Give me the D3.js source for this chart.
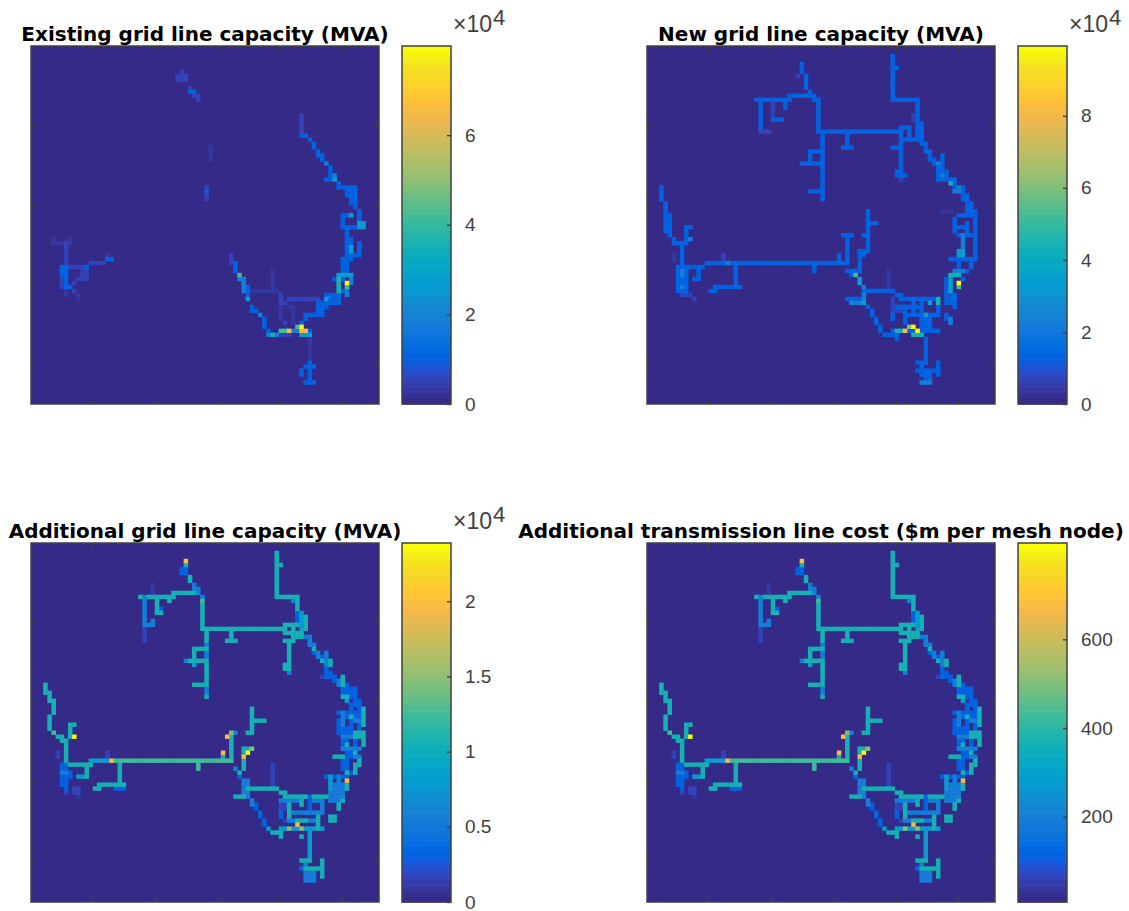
<!DOCTYPE html>
<html><head><meta charset="utf-8">
<style>html,body{margin:0;padding:0;background:#fff}svg{display:block}</style>
<script src="https://cdn.jsdelivr.net/npm/d3@7/dist/d3.min.js"></script>
</head><body><svg id="chart" width="1129" height="911"></svg>
<script>
// Titles and colourbar ticks
const titles = ["Existing grid line capacity (MVA)","New grid line capacity (MVA)","Additional grid line capacity (MVA)","Additional transmission line cost ($m per mesh node)"];
const barTicks = [[0,2e4,4e4,6e4],[0,2e4,4e4,6e4,8e4],[0,5e3,1e4,1.5e4,2e4],[200,400,600]];
const barTickLabels = [["0","2","4","6"],["0","2","4","6","8"],["0","0.5","1","1.5","2"],["200","400","600"]];
const barDomains = [[0,79900],[0,99400],[0,23870],[8,817]];
const xTicks = [15,30,45,60,75];
const yTicks = [20,40,60,80];
// Value classes (index = class used in the cell runs, 0 = empty)
const existingLevels = [0,3200,6000,11200,17600,26400,36000,41600,49600,65600,79900];
const newLevels = [0,4000,7500,13900,21900,32800,44700,51700,61600,81500,99400];
const additionalLevels = [0,950,1790,3340,5250,7880,10740,12410,14800,19570,23870];
const costLevels = [8,40,69,121,186,275,372,429,510,671,817];
// Cell runs: [colFrom,rowFrom,colTo,rowTo,valueClass]
const existingCells = [
[35,7,37,8,2],[36,6,36,6,2],[38,10,38,10,2],[38,11,39,11,3],[39,12,40,12,2],[40,13,40,13,2],
[43,25,43,28,1],[42,35,42,38,2],[42,36,42,36,3],
[5,48,5,49,1],[6,49,7,49,1],[9,48,9,49,1],[8,49,8,54,2],[7,55,8,57,3],[7,58,7,60,2],[8,58,8,60,3],[9,55,13,55,2],[13,55,13,55,3],[14,54,17,54,2],[18,52,18,53,1],[18,53,19,53,3],[12,56,13,58,2],[11,58,12,58,2],[10,59,10,59,2],[9,60,9,60,3],[10,61,10,61,2],[11,62,11,63,1],[8,61,8,62,1],
[65,17,65,21,2],[65,22,66,22,3],[67,23,67,23,3],[68,24,68,25,3],[69,26,69,27,3],[70,27,70,28,3],[71,29,71,29,4],[72,30,72,32,3],[73,32,73,32,4],[71,33,72,33,3],[73,33,73,33,5],[74,34,74,35,3],[74,35,77,35,3],[76,36,76,37,3],[77,35,78,38,3],[77,38,77,39,3],[78,39,78,40,3],[79,41,79,44,3],[75,42,77,42,3],[77,42,77,42,5],[75,42,75,45,3],[75,45,80,45,3],[79,44,80,45,5],
[76,46,76,48,3],[76,48,77,53,3],[77,50,77,52,5],[77,52,79,52,3],[79,49,79,52,3],[75,53,76,56,3],
[74,57,77,57,5],[74,58,74,62,6],[75,58,75,58,3],[77,58,77,59,4],[76,59,76,59,10],[76,60,76,60,7],[76,61,76,62,4],[73,58,73,58,3],[71,62,74,64,3],[71,63,71,63,5],[75,61,75,61,3],
[62,63,69,63,2],[69,64,70,64,5],[71,65,71,65,3],[70,64,70,66,3],[66,67,70,67,3],[69,64,69,66,3],[66,68,66,68,3],[65,69,65,69,3],
[60,71,61,71,7],[62,71,62,71,9],[63,71,64,71,4],[65,70,65,70,10],[64,70,64,70,7],[65,71,66,71,9],[67,71,67,71,3],[57,72,59,72,4],[58,72,58,72,6],[60,72,62,72,2],[65,72,67,72,5],
[48,52,48,54,2],[49,54,49,55,3],[49,56,49,56,3],[50,57,50,57,7],[50,58,50,58,4],[51,58,51,61,4],[52,60,52,63,3],[52,63,52,63,5],[53,61,59,61,1],[58,56,58,61,1],[60,62,60,63,2],[60,64,61,64,2],[62,65,62,65,1],[60,65,60,68,1],[63,65,63,69,1],[61,69,61,69,2],
[53,65,53,66,3],[54,66,54,66,3],[55,67,55,67,4],[56,68,56,70,3],[57,71,57,71,3],
[67,73,67,79,1],[66,80,68,80,3],[65,81,65,82,3],[67,79,67,84,3],[66,84,68,84,3]
];
const newCells = [
[66,24,67,24,3],[67,26,68,26,3],[68,28,69,28,3],[69,29,70,29,3],[70,30,70,32,3],[72,31,72,33,3],[72,33,73,33,4],[74,35,75,36,4],[75,36,76,36,3],[76,37,77,38,3],[77,39,78,41,3],[60,66,62,66,2],
[59,2,59,13,3],[60,5,60,5,3],[59,13,65,13,3],[65,13,65,21,3],[41,21,61,21,3],[61,20,63,20,3],[61,20,61,22,3],[63,20,63,23,3],[61,23,65,23,3],[65,19,66,23,3],[64,17,64,18,2],
[41,13,41,21,3],[26,13,34,13,3],[34,12,40,12,3],[40,13,40,13,3],[37,4,37,6,3],[36,7,36,7,2],[38,7,38,10,3],[39,11,39,12,3],
[27,13,27,20,3],[27,21,29,21,2],[30,14,30,18,2],[30,18,32,18,3],[33,14,33,15,3],
[42,22,42,38,3],[39,26,42,26,3],[39,26,39,29,3],[37,29,42,29,3],[39,36,42,36,3],[47,25,49,25,3],[48,22,48,25,3],
[61,23,61,33,3],[59,25,61,25,3],[60,31,61,31,3],[60,32,62,32,3],[61,33,61,33,2],
[67,25,67,26,3],[68,27,68,27,3],[69,28,69,28,3],[70,29,70,29,4],[71,30,71,30,4],[71,27,71,31,3],[71,32,71,32,4],[70,33,73,33,3],[73,34,73,34,6],[74,33,74,35,3],[75,36,75,36,4],[76,35,76,37,3],[76,38,76,38,3],[77,38,77,40,3],[79,41,79,46,3],[77,42,77,42,6],[75,42,78,42,3],[74,43,74,46,3],[75,45,77,45,3],[77,44,77,46,3],[75,47,79,47,3],[76,47,76,51,4],[75,51,76,52,5],[79,48,79,52,3],[76,53,79,53,3],[73,53,76,53,3],[75,54,75,56,3],[78,54,78,55,3],[71,41,73,41,1],
[73,57,75,57,6],[74,56,76,56,4],
[3,35,3,38,3],[4,39,4,43,3],[5,42,5,46,3],[4,44,4,46,3],[5,47,5,47,3],[6,48,6,49,3],[7,49,9,49,3],[9,45,9,48,3],[9,45,10,45,3],[10,48,10,48,4],[8,50,8,54,3],
[7,55,13,55,3],[14,54,48,54,3],[18,52,18,53,2],[19,54,19,54,4],[12,56,12,58,3],[11,58,12,58,3],[21,55,21,60,3],[16,60,22,60,3],[15,61,16,61,3],[40,55,40,56,3],
[7,55,9,58,3],[7,59,9,61,3],[8,56,8,57,4],[8,60,8,60,4],[8,62,10,62,2],[11,63,11,63,2],[6,52,6,53,1],
[48,47,48,53,3],[47,47,49,47,3],[46,52,46,53,3],[53,41,53,51,3],[53,44,55,44,3],[52,47,52,47,3],[51,51,51,56,3],[51,51,53,51,3],[52,52,52,52,3],[49,56,50,57,3],[58,56,58,60,1],
[48,56,50,56,3],[50,57,50,57,7],[51,58,51,59,5],[52,60,52,63,4],[52,64,52,64,5],[49,63,51,64,4],[52,61,59,61,3],[60,62,61,62,3],[61,63,70,63,3],[68,64,68,64,5],[70,63,70,63,7],
[53,65,53,65,3],[54,66,54,67,3],[55,68,55,69,3],[56,70,56,71,3],[57,72,57,72,7],[57,72,60,72,3],[60,73,60,73,3],[59,71,70,71,3],[60,71,61,71,6],[62,71,62,71,9],[63,70,63,70,8],[64,70,64,70,10],[65,71,65,71,10],[64,72,66,72,6],
[67,73,67,78,3],[65,79,67,79,3],[70,79,70,82,3],[66,81,70,81,3],[65,81,65,81,3],[66,80,66,82,3],[67,82,68,84,3],[66,84,68,84,4],
[59,63,59,67,2],[59,67,59,68,3],[60,65,61,65,3],[62,65,62,69,3],[62,67,70,67,3],[66,67,67,67,5],[64,64,64,66,3],[66,64,66,70,3],[67,68,68,71,3],[70,65,70,67,3],[62,65,65,65,3],[72,67,72,68,3],[73,68,73,69,4],
[73,58,73,62,5],[74,57,75,57,6],[75,59,75,59,10],[75,60,75,60,7],[72,58,72,62,3],[72,62,74,64,3],[70,63,70,64,6],[76,58,76,58,3],[77,56,77,56,3],[74,65,74,65,3],
[48,63,51,63,3]
];
const additionalCells = [
[66,23,67,23,4],[67,25,67,25,4],[68,27,68,27,3],[69,28,69,28,4],[71,32,71,32,3],[71,33,72,33,3],[73,34,73,34,3],[75,36,76,36,3],[76,36,77,36,3],[75,37,76,37,3],[79,41,79,46,3],[77,42,77,47,3],[75,46,75,50,3],[74,44,74,47,3],[78,49,78,51,3],[77,52,77,53,3],[76,52,76,56,3],[72,60,75,63,4],
[37,4,37,4,9],[37,5,37,5,6],[36,6,37,7,3],[38,8,38,9,6],[39,10,39,11,4],[40,11,40,12,4],[41,13,41,13,4],[41,14,41,14,7],[41,15,41,21,6],[41,21,61,21,6],
[26,13,34,13,6],[34,12,39,12,6],[27,13,27,20,4],[27,20,29,20,4],[29,19,29,20,4],[27,21,27,24,2],[29,10,29,12,1],[30,14,30,17,6],[30,17,31,17,6],[31,16,31,16,3],[33,14,33,14,6],
[59,2,59,13,6],[60,5,60,5,6],[59,13,64,13,6],[63,14,64,14,4],[64,14,64,16,6],[64,17,64,20,3],[65,17,65,22,5],[66,18,66,21,6],
[61,20,64,20,6],[61,20,61,22,6],[63,20,63,23,6],[61,22,65,22,6],[63,23,65,23,6],[61,24,63,24,6],[62,24,62,31,6],[61,30,62,30,6],[61,31,61,31,6],[62,32,62,32,4],
[42,22,42,25,6],[42,25,42,28,4],[42,29,42,35,6],[42,36,42,37,4],[42,38,42,38,6],[39,26,42,26,6],[39,26,39,28,6],[37,29,42,29,6],[37,29,37,29,4],[39,30,39,30,5],[39,35,42,35,6],[48,22,48,24,6],[47,24,49,24,6],
[67,24,67,24,4],[68,25,68,25,4],[68,26,68,26,6],[69,27,69,27,4],[70,28,70,28,3],[70,29,70,29,6],[71,27,71,30,4],[72,29,72,30,6],[71,31,71,31,3],[70,33,70,33,2],[72,32,72,33,3],[73,33,73,33,3],[75,33,75,33,6],[74,34,74,35,4],[75,34,75,35,6],[75,36,75,36,3],[76,35,76,35,3],[77,36,78,37,3],[75,38,76,38,6],[77,38,78,38,3],[76,39,76,39,5],[78,39,79,40,3],[77,40,77,41,3],
[74,42,80,42,3],[75,42,75,45,4],[80,41,80,45,6],[76,43,79,43,3],[77,43,77,43,6],[78,44,79,44,4],[76,46,76,51,3],[78,47,80,47,6],[75,48,79,48,4],[78,48,80,48,6],[80,49,80,50,6],[76,50,76,50,6],[75,51,79,51,4],[73,53,75,53,6],[75,54,75,56,3],[78,52,78,52,6],[78,53,79,53,4],[79,54,79,55,6],[78,55,78,57,6],[77,57,77,57,3],
[76,57,76,61,6],[76,59,76,59,9],[71,58,76,58,3],[72,58,72,63,5],[74,58,74,63,4],[72,62,75,64,4],[75,64,75,64,6],[74,65,74,66,6],[72,68,73,69,6],
[3,35,3,37,6],[4,37,4,39,6],[5,39,5,42,6],[4,43,4,46,6],[5,47,5,47,7],[6,48,7,48,6],[7,49,8,49,6],[9,45,9,48,6],[9,45,10,45,6],[10,48,10,48,10],[8,50,8,54,6],[6,52,6,53,2],
[8,55,14,55,6],[14,54,14,55,6],[14,54,18,54,5],[19,54,19,54,9],[20,54,48,54,7],[18,52,18,53,2],[7,55,8,56,3],[7,57,8,57,4],[8,58,8,61,3],[7,58,7,60,3],[9,57,9,58,3],[10,61,11,62,2],[8,62,8,62,2],[11,63,11,63,1],
[13,55,13,58,6],[11,58,12,58,5],[21,55,21,59,6],[16,60,22,60,6],[15,61,16,61,6],[20,61,22,61,3],[40,55,40,56,7],
[48,47,48,53,6],[47,48,47,48,9],[48,47,48,47,8],[49,47,49,47,4],[46,52,46,52,9],[46,53,46,53,6],
[53,41,53,47,6],[53,44,56,44,6],[52,47,53,47,6],[51,51,51,56,6],[51,51,53,51,6],[52,52,52,52,10],[51,53,51,53,9],[53,51,53,51,8],
[49,56,49,56,4],[50,57,50,57,6],[50,58,50,58,3],[51,59,52,62,4],[52,61,59,61,6],[58,55,58,60,2],[49,63,51,63,6],[52,63,52,63,4],
[53,64,53,65,4],[54,65,54,66,3],[55,67,55,68,3],[56,69,56,70,3],[57,71,57,71,5],[58,72,60,72,6],[60,73,60,73,6],[60,71,70,71,5],[62,71,62,71,8],[65,71,65,71,8],[64,70,64,70,9],
[60,62,61,62,6],[61,63,71,63,6],
[67,72,67,78,5],[65,73,65,73,6],[65,79,67,79,6],[70,79,70,83,6],[66,81,70,81,6],[66,82,68,84,4],[65,81,65,81,3],[66,80,66,80,4],
[60,64,61,64,4],[62,64,65,64,4],[65,64,65,65,6],[67,63,67,67,3],[68,64,70,64,4],[70,64,70,66,4],[62,67,70,67,4],[62,65,62,68,6],[60,67,60,68,3],[61,69,61,69,2],[62,69,69,69,4],[64,69,66,69,6],[69,68,69,71,6],[60,65,61,66,2]
];
const panelData = [[existingCells,existingLevels],[newCells,newLevels],[additionalCells,additionalLevels],[additionalCells,costLevels]];
// MATLAB parula, 64 steps
const parula = [[.2081,.1663,.5292],[.2116,.1898,.5777],[.2123,.2138,.627],[.2081,.2386,.6771],[.1959,.2645,.7279],[.1707,.2919,.7792],[.1253,.3242,.8303],[.0591,.3598,.8683],[.0117,.3875,.882],[.006,.4086,.8828],[.0165,.4266,.8786],[.0329,.443,.872],[.0498,.4586,.8641],[.0629,.4737,.8554],[.0723,.4887,.8467],[.0779,.504,.8384],[.0793,.52,.8312],[.0749,.5375,.8263],[.0641,.557,.824],[.0488,.5772,.8228],[.0343,.5966,.8199],[.0265,.6137,.8135],[.0239,.6287,.8038],[.0231,.6418,.7913],[.0228,.6535,.7768],[.0267,.6642,.7607],[.0384,.6743,.7436],[.059,.6838,.7254],[.0843,.6928,.7062],[.1133,.7015,.6859],[.1453,.7098,.6646],[.1801,.7177,.6424],[.2178,.725,.6193],[.2586,.7317,.5954],[.3022,.7376,.5712],[.3482,.7424,.5473],[.3953,.7459,.5244],[.442,.7481,.5033],[.4871,.7491,.484],[.53,.7491,.4661],[.5709,.7485,.4494],[.6099,.7473,.4337],[.6473,.7456,.4188],[.6834,.7435,.4044],[.7184,.7411,.3905],[.7525,.7384,.3768],[.7858,.7356,.3633],[.8185,.7327,.3498],[.8507,.7299,.336],[.8824,.7274,.3217],[.9139,.7258,.3063],[.945,.7261,.2886],[.9739,.7314,.2666],[.9938,.7455,.2403],[.999,.7653,.2164],[.9955,.7861,.1967],[.988,.8066,.1794],[.9789,.8271,.1633],[.9697,.8481,.1475],[.9626,.8705,.1309],[.9589,.8949,.1132],[.9598,.9218,.0948],[.9661,.9514,.0755],[.9763,.9831,.0538]].map(a=>d3.rgb(a[0]*255,a[1]*255,a[2]*255).formatHex());

const frames = [{l:31,r:379,t:46,b:404,bl:402,br:451},{l:647,r:995,t:46,b:404,bl:1018,br:1067},{l:31,r:379,t:543,b:902,bl:402,br:451},{l:647,r:995,t:543,b:902,bl:1018,br:1067}];
const frameColor = "#404040";
const svg = d3.select("#chart");
const defs = svg.append("defs");
const blur = defs.append("filter").attr("id","soft").attr("x",-0.02).attr("y",-0.02).attr("width",1.04).attr("height",1.04);
blur.append("feGaussianBlur").attr("stdDeviation",0.7);

frames.forEach((f,i)=>{
  const g = svg.append("g");
  const x = d3.scaleLinear().domain([0.24,83.84]).range([f.l,f.r]);
  const y = d3.scaleLinear().domain([0.42,90.3]).range([f.t,f.b]);
  const cx = d3.scaleLinear().domain([0,84.25]).range([f.l,f.r]);
  const cy = d3.scaleLinear().domain([0,89.88]).range([f.t,f.b]);
  const color = d3.scaleQuantize().domain(barDomains[i]).range(parula);
  const [runs,levels] = panelData[i];
  const cells = new Map();
  runs.forEach(([c0,r0,c1,r1,k])=>{
    for(const c of d3.range(c0,c1+1)) for(const r of d3.range(r0,r1+1)) cells.set(c+","+r,{c,r,v:levels[k]});
  });
  defs.append("clipPath").attr("id","clip"+i).append("rect").attr("x",f.l).attr("y",f.t).attr("width",f.r-f.l).attr("height",f.b-f.t);
  const map = g.append("g").attr("clip-path",`url(#clip${i})`).append("g").attr("filter","url(#soft)");
  map.append("rect").attr("x",f.l-4).attr("y",f.t-4).attr("width",f.r-f.l+8).attr("height",f.b-f.t+8).attr("fill",color(barDomains[i][0]));
  map.selectAll("rect.cell").data([...cells.values()].sort((a,b)=>a.v-b.v)).join("rect").attr("class","cell")
    .attr("x",d=>cx(d.c)-0.2).attr("y",d=>cy(d.r)-0.2)
    .attr("width",cx(1)-cx(0)+0.4).attr("height",cy(1)-cy(0)+0.4)
    .attr("fill",d=>color(d.v));
  const axis=(gen,tx)=>{const a=g.append("g").attr("transform",tx).call(gen);a.select(".domain").remove();a.selectAll("line").attr("stroke",frameColor).attr("stroke-width",1.6);a.selectAll("text").remove();};
  axis(d3.axisBottom(x).tickValues(xTicks).tickSize(-5),`translate(0,${f.b})`);
  axis(d3.axisTop(x).tickValues(xTicks).tickSize(-5),`translate(0,${f.t})`);
  axis(d3.axisLeft(y).tickValues(yTicks).tickSize(-5),`translate(${f.l},0)`);
  axis(d3.axisRight(y).tickValues(yTicks).tickSize(-5),`translate(${f.r},0)`);
  g.append("rect").attr("x",f.l).attr("y",f.t).attr("width",f.r-f.l).attr("height",f.b-f.t).attr("fill","none").attr("stroke",frameColor).attr("stroke-width",1.5);
  g.append("text").attr("x",(f.l+f.r)/2).attr("y",f.t-5).attr("text-anchor","middle")
    .attr("font-family","'DejaVu Sans'").attr("font-weight","bold").attr("font-size",20).attr("fill","#000").text(titles[i]);
  const by = d3.scaleLinear().domain(barDomains[i]).range([f.b,f.t]);
  const step = (barDomains[i][1]-barDomains[i][0])/64;
  g.append("g").selectAll("rect").data(parula).join("rect")
    .attr("x",f.bl).attr("width",f.br-f.bl)
    .attr("y",(d,k)=>by(barDomains[i][0]+(k+1)*step)).attr("height",(by(0+barDomains[i][0])-by(barDomains[i][0]+step))+0.6)
    .attr("fill",d=>d);
  const tickG = g.append("g").attr("transform",`translate(${f.br},0)`).call(
    d3.axisRight(by).tickValues(barTicks[i]).tickSize(0).tickPadding(14).tickFormat((d,k)=>barTickLabels[i][k]));
  tickG.select(".domain").remove();
  tickG.selectAll("text").attr("font-family","'Liberation Sans'").attr("font-size",19).attr("fill",frameColor);
  tickG.selectAll("line").attr("x1",-4).attr("x2",0).attr("stroke",frameColor).attr("stroke-width",1.4);
  g.append("rect").attr("x",f.bl).attr("y",f.t).attr("width",f.br-f.bl).attr("height",f.b-f.t).attr("fill","none").attr("stroke",frameColor).attr("stroke-width",1.5);
  if(i!==3){
    const e = g.append("g").attr("font-family","'Liberation Sans'").attr("fill",frameColor);
    e.append("text").attr("x",f.bl+51).attr("y",f.t-14).attr("font-size",23).text("×10");
    e.append("text").attr("x",f.bl+91).attr("y",f.t-21).attr("font-size",22).text("4");
  }
});
</script></body></html>
